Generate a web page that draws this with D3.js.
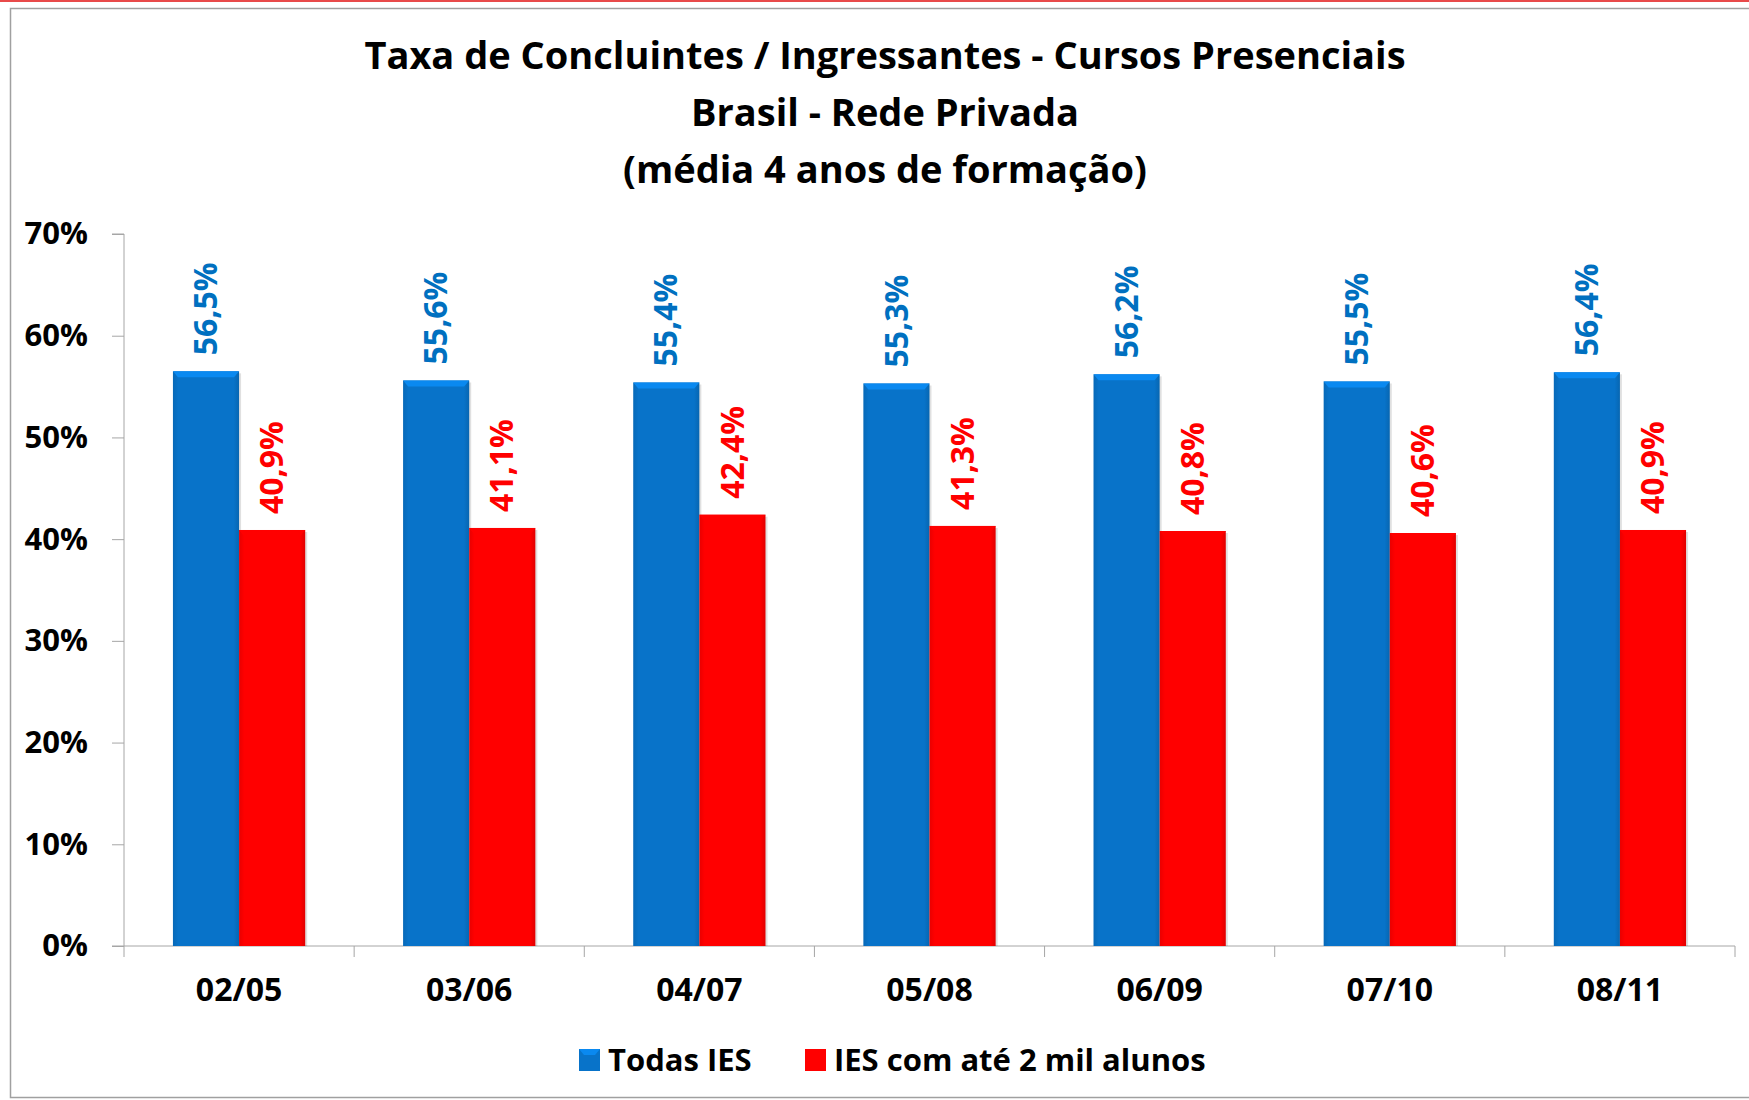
<!DOCTYPE html>
<html>
<head>
<meta charset="utf-8">
<style>
  body { margin: 0; background: #fff; }
  svg { display: block; font-family: "Open Sans", "DejaVu Sans", sans-serif; font-weight: bold; }
  .axis path, .axis line { stroke: #a6a6a6; }
  .axis text { fill: #000; }
</style>
</head>
<body>
<div id="chart"></div>
<script src="https://d3js.org/d3.v7.min.js"></script>
<script>
  // chart data
  const categories = ['02/05', '03/06', '04/07', '05/08', '06/09', '07/10', '08/11'];
  const seriesNames = ['Todas IES', 'IES com até 2 mil alunos'];
  const todasIES = [56.5, 55.6, 55.4, 55.3, 56.2, 55.5, 56.4];
  const iesAte2mil = [40.9, 41.1, 42.4, 41.3, 40.8, 40.6, 40.9];
  const yTickValues = [0, 10, 20, 30, 40, 50, 60, 70];
  const titleLines = [
    'Taxa de Concluintes / Ingressantes - Cursos Presenciais',
    'Brasil - Rede Privada',
    '(média 4 anos de formação)'
  ];

  const colors = ['#0873c9', '#ff0000'];
  const labelColors = ['#0070c0', '#ff0000'];

  const width = 1749;
  const height = 1100;
  const margin = { top: 234, right: 14, bottom: 154, left: 124 };

  const svg = d3.select('#chart')
    .append('svg')
    .attr('width', width)
    .attr('height', height);

  // frame like the original slide
  svg.append('rect')
    .attr('x', 0).attr('y', 0).attr('width', width).attr('height', 2)
    .attr('fill', '#e84a4a');
  svg.append('rect')
    .attr('x', 10.5).attr('y', 8.5).attr('width', width).attr('height', 1089)
    .attr('fill', 'none').attr('stroke', '#a0a0a0').attr('stroke-width', 1.5);

  const defs = svg.append('defs');
  colors.forEach((c, i) => {
    const g = defs.append('linearGradient').attr('id', 'grad' + i)
      .attr('x1', '0%').attr('x2', '100%').attr('y1', '0%').attr('y2', '0%');
    g.append('stop').attr('offset', '0%').attr('stop-color', d3.color(c).darker(0.25));
    g.append('stop').attr('offset', '8%').attr('stop-color', c);
    g.append('stop').attr('offset', '92%').attr('stop-color', c);
    g.append('stop').attr('offset', '100%').attr('stop-color', d3.color(c).darker(0.35));
  });

  const x = d3.scaleBand()
    .domain(categories)
    .range([margin.left, width - margin.right])
    .padding(0);

  const xInner = d3.scaleBand()
    .domain(seriesNames)
    .range([0, x.bandwidth()])
    .paddingInner(0)
    .paddingOuter(0.74);

  const y = d3.scaleLinear()
    .domain([0, 70])
    .range([height - margin.bottom, margin.top]);

  // title
  svg.append('g')
    .selectAll('text')
    .data(titleLines)
    .enter()
    .append('text')
    .attr('x', 885)
    .attr('y', (d, i) => 56 + i * 57)
    .attr('dy', '0.35em')
    .attr('text-anchor', 'middle')
    .attr('font-size', 38)
    .text(d => d);

  // axes
  const yAxis = svg.append('g')
    .attr('class', 'axis')
    .attr('transform', `translate(${margin.left}, 0)`)
    .call(d3.axisLeft(y).tickValues(yTickValues).tickSize(12).tickPadding(24).tickFormat(d => d + '%'))
    .attr('font-family', null);
  yAxis.selectAll('text').attr('font-size', 31);
  yAxis.select('.domain').attr('d', `M${-12},${y(70)}H0V${y(0)}H-12`);

  const xAxis = svg.append('g')
    .attr('class', 'axis')
    .attr('transform', `translate(0, ${y(0)})`)
    .call(d3.axisBottom(x).tickSize(0).tickPadding(32))
    .attr('font-family', null);
  xAxis.selectAll('text').attr('font-size', 32);
  xAxis.select('.domain').attr('d', `M${margin.left},0H${width - margin.right}`);
  // category separator ticks
  xAxis.selectAll('.sep')
    .data(categories.map(c => x(c)).concat([width - margin.right]))
    .enter()
    .append('line')
    .attr('x1', d => d).attr('x2', d => d)
    .attr('y1', 0).attr('y2', 11)
    .attr('stroke', '#a6a6a6');

  // bars
  const rows = categories.map((c, i) => ({ cat: c, values: [todasIES[i], iesAte2mil[i]] }));

  const groups = svg.append('g')
    .selectAll('g')
    .data(rows)
    .enter()
    .append('g')
    .attr('transform', d => `translate(${x(d.cat)}, 0)`);

  const bars = groups.selectAll('g.bar')
    .data(d => d.values.map((v, j) => ({ name: seriesNames[j], value: v, j: j })))
    .enter()
    .append('g')
    .attr('class', 'bar');

  bars.append('rect')
    .attr('x', d => xInner(d.name) + 2)
    .attr('y', d => y(d.value) + 2)
    .attr('width', xInner.bandwidth())
    .attr('height', d => y(0) - y(d.value) - 2)
    .attr('fill', 'rgba(0,0,0,0.12)');

  bars.append('rect')
    .attr('x', d => xInner(d.name))
    .attr('y', d => y(d.value))
    .attr('width', xInner.bandwidth())
    .attr('height', d => y(0) - y(d.value))
    .attr('fill', d => `url(#grad${d.j})`);

  // bevel on top of each bar
  bars.append('path')
    .attr('d', d => {
      const x0 = xInner(d.name), w = xInner.bandwidth(), t = y(d.value);
      return `M${x0},${t}H${x0 + w}L${x0 + w - 5},${t + 6}H${x0 + 5}Z`;
    })
    .attr('fill', d => d3.color(colors[d.j]).brighter(0.5));

  // value labels
  const fmt = d3.format('.1f');
  bars.append('text')
    .attr('transform', d => `translate(${xInner(d.name) + xInner.bandwidth() / 2}, ${y(d.value) - 16}) rotate(-90)`)
    .attr('dy', '0.35em')
    .attr('text-anchor', 'start')
    .attr('font-size', 32)
    .attr('fill', d => labelColors[d.j])
    .text(d => fmt(d.value).replace('.', ',') + '%');

  // legend
  const legendItems = [
    { name: seriesNames[0], x: 579 },
    { name: seriesNames[1], x: 805 }
  ];
  const legend = svg.append('g')
    .selectAll('g')
    .data(legendItems)
    .enter()
    .append('g')
    .attr('transform', d => `translate(${d.x}, 1060)`);

  legend.append('rect')
    .attr('x', 0).attr('y', -11)
    .attr('width', 21).attr('height', 22)
    .attr('fill', (d, i) => colors[i]);
  legend.append('path')
    .attr('d', 'M0,-11H21L16,-5H5Z')
    .attr('fill', (d, i) => d3.color(colors[i]).brighter(0.5));
  legend.append('text')
    .attr('x', 29)
    .attr('dy', '0.35em')
    .attr('font-size', 31)
    .text(d => d.name);
</script>
</body>
</html>
